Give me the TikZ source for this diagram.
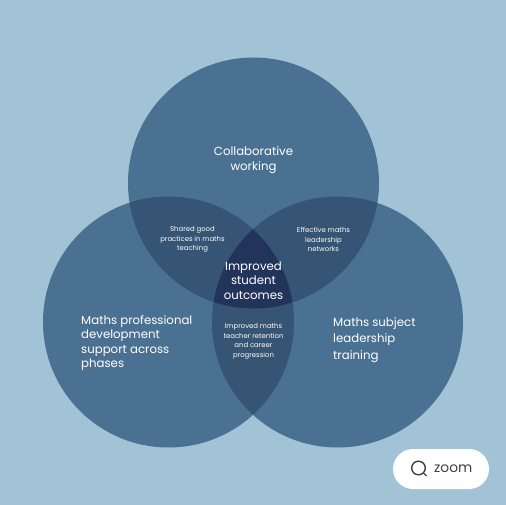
\documentclass[tikz,border=0pt]{standalone}
\usepackage{fontspec}
\setmainfont{Poppins}
\definecolor{bgblue}{HTML}{A2C2D6}
\definecolor{oneblue}{HTML}{4A7192}
\definecolor{twoblue}{HTML}{365473}
\definecolor{threeblue}{HTML}{22345A}
\definecolor{zoomgrey}{HTML}{404040}
\tikzset{
  biglabel/.style={text=white, font=\fontsize{11.75}{14.3}\selectfont, align=center, inner sep=0pt},
  leftlabel/.style={biglabel, align=left},
  smalllabel/.style={text=white, font=\fontsize{6.9}{9.6}\selectfont, align=center, inner sep=0pt},
}

\begin{document}
\begin{tikzpicture}[x=1pt, y=-1pt]
    % ================= Parameters =================
    \def\R{125.5}      % Circle radius
    \def\W{506}        % Canvas width
    \def\H{505}        % Canvas height

    % Key coordinates
    \coordinate (top) at (253.5, 183);
    \coordinate (left) at (168.5, 322);
    \coordinate (right) at (337.5, 322);

    % ================= Background =================
    \path[use as bounding box, fill=bgblue] (0, 0) rectangle (\W, \H);

    % ================= Circles =================
    \fill[oneblue] (top) circle (\R);
    \fill[oneblue] (left) circle (\R);
    \fill[oneblue] (right) circle (\R);

    % Pairwise overlaps
    \begin{scope}
        \clip (top) circle (\R);
        \fill[twoblue] (left) circle (\R);
        \fill[twoblue] (right) circle (\R);
    \end{scope}
    \begin{scope}
        \clip (left) circle (\R);
        \fill[twoblue] (right) circle (\R);
    \end{scope}

    % Centre overlap
    \begin{scope}
        \clip (top) circle (\R);
        \clip (left) circle (\R);
        \fill[threeblue] (right) circle (\R);
    \end{scope}

    % ================= Labels =================
    \node[biglabel] (collab) at (253.5, 160) {Collaborative\\working};
    \node[biglabel] (outcomes) at (253.5, 280.5) {Improved\\student\\outcomes};
    \node[leftlabel, anchor=west] (prof) at (81, 343) {Maths professional\\development\\support across\\phases};
    \node[leftlabel, anchor=west, font=\fontsize{11.75}{16.3}\selectfont] (subject) at (333, 340) {Maths subject\\leadership\\training};

    \node[smalllabel] (shared) at (192.5, 239.5) {Shared good\\practices in maths\\teaching};
    \node[smalllabel] (networks) at (323.5, 239.5) {Effective maths\\leadership\\networks};
    \node[smalllabel] (retention) at (253.5, 341.5) {Improved maths\\teacher retention\\and career\\progression};

    % ================= Zoom button =================
    \fill[white, rounded corners=20] (393, 449) rectangle (489, 489);
    \draw[zoomgrey, line width=1.4] (418.5, 468) circle (6.8);
    \draw[zoomgrey, line width=1.4] (423.5, 473) -- (426.5, 476);
    \node[text=zoomgrey, font=\fontsize{13.8}{15}\selectfont, anchor=west, inner sep=0pt] (zoomtext) at (434, 469) {zoom};

\end{tikzpicture}
\end{document}
